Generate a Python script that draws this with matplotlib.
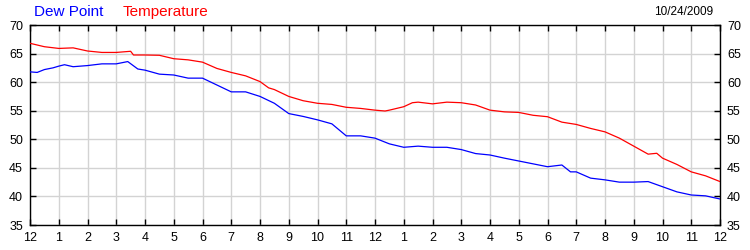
import matplotlib

matplotlib.use("Agg")
import matplotlib.pyplot as plt

plt.rcParams["font.family"] = ["Liberation Sans", "DejaVu Sans"]

# hours since midnight, 10/24/2009
temp_hours = [0, 0.5, 1, 1.5, 2, 2.5, 3, 3.5, 3.6, 4, 4.5, 5, 5.5, 6, 6.5, 7,
              7.5, 8, 8.3, 8.5, 9, 9.5, 10, 10.5, 11, 11.5, 12, 12.35, 12.5, 13,
              13.3, 13.5, 14, 14.5, 15, 15.5, 16, 16.5, 17, 17.5, 18, 18.5, 19,
              19.5, 20, 20.5, 21, 21.5, 21.8, 22, 22.5, 23, 23.5, 24]
temperature = [66.8, 66.2, 65.9, 66.0, 65.45, 65.2, 65.2, 65.4, 64.75, 64.75,
               64.7, 64.1, 63.9, 63.5, 62.4, 61.7, 61.1, 60.1, 59.0, 58.7, 57.5,
               56.75, 56.3, 56.1, 55.6, 55.4, 55.1, 54.95, 55.1, 55.7, 56.4,
               56.5, 56.2, 56.5, 56.4, 56.0, 55.1, 54.8, 54.7, 54.2, 53.95, 53.0,
               52.6, 51.9, 51.3, 50.2, 48.8, 47.4, 47.55, 46.7, 45.6, 44.3, 43.6,
               42.6]

dew_hours = [0, 0.25, 0.5, 0.8, 1, 1.2, 1.5, 2, 2.5, 3, 3.4, 3.75, 4, 4.5, 5,
             5.5, 6, 6.5, 7, 7.5, 8, 8.5, 9, 9.5, 10, 10.5, 11, 11.5, 12, 12.5,
             13, 13.5, 14, 14.5, 15, 15.5, 16, 16.5, 17, 17.5, 18, 18.5, 18.8,
             19, 19.5, 20, 20.5, 21, 21.5, 22, 22.5, 23, 23.5, 24]
dew_point = [61.8, 61.7, 62.2, 62.5, 62.8, 63.05, 62.7, 62.9, 63.2, 63.2, 63.6,
             62.3, 62.1, 61.4, 61.25, 60.7, 60.7, 59.5, 58.3, 58.3, 57.5, 56.3,
             54.5, 54.0, 53.4, 52.7, 50.6, 50.6, 50.2, 49.2, 48.6, 48.8, 48.6,
             48.6, 48.2, 47.5, 47.25, 46.7, 46.2, 45.7, 45.2, 45.5, 44.3, 44.3,
             43.2, 42.9, 42.5, 42.5, 42.6, 41.7, 40.8, 40.25, 40.1, 39.55]

x_ticks = list(range(0, 25))
x_labels = [str((h - 1) % 12 + 1) for h in x_ticks]
y_ticks = [35, 40, 45, 50, 55, 60, 65, 70]

fig = plt.figure(figsize=(7.5, 2.5), dpi=100, facecolor="white")
ax = fig.add_axes([0.04, 0.1, 0.92, 0.8])

ax.plot(dew_hours, dew_point, color="#0000ff", linewidth=0.9, zorder=3)
ax.plot(temp_hours, temperature, color="#ff0000", linewidth=0.9, zorder=3)

ax.set_xlim(0, 24)
ax.set_ylim(35, 70)
ax.set_xticks(x_ticks)
ax.set_xticklabels(x_labels)
ax.set_yticks(y_ticks)

ax.grid(True, color="#d3d3d3", linewidth=1.0, zorder=0)
ax.set_axisbelow(True)
for s in ax.spines.values():
    s.set_color("black")
    s.set_linewidth(1.0)

ax.tick_params(axis="both", direction="in", length=4, width=1, colors="black",
               labelsize=9, pad=5, top=True, right=True, labelright=True)

fig.text(0.045, 0.952, "Dew Point", color="#0000ff", fontsize=11,
         ha="left", va="center")
fig.text(0.163, 0.952, "Temperature", color="#ff0000", fontsize=11,
         ha="left", va="center")
fig.text(0.951, 0.952, "10/24/2009", color="black", fontsize=8.5,
         ha="right", va="center")

fig.savefig("out.png", dpi=100, facecolor="white")
